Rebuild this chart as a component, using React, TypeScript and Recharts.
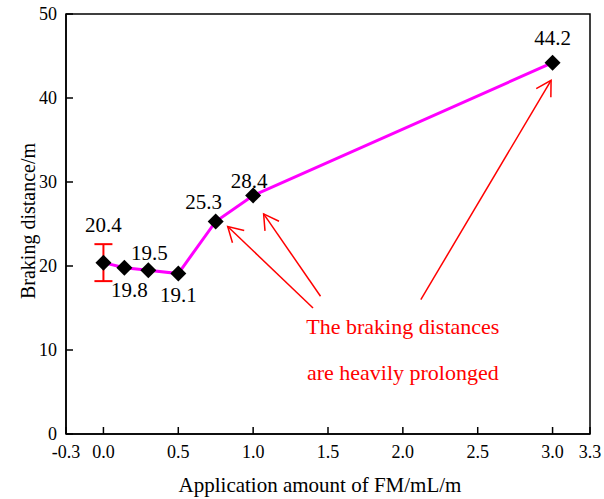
import {
  ComposedChart,
  Line,
  XAxis,
  YAxis,
  ErrorBar,
  LabelList,
  ReferenceArea,
  ReferenceLine,
  ReferenceDot,
  Label,
} from 'recharts';

// values
const amounts = [0, 0.14, 0.3, 0.5, 0.75, 1.0, 3.0];
const distances = [20.4, 19.8, 19.5, 19.1, 25.3, 28.4, 44.2];
const errors = [2.2, 0, 0, 0, 0, 0, 0];

const xTicks = [-0.25, 0, 0.5, 1.0, 1.5, 2.0, 2.5, 3.0, 3.25];
const xTickLabels = ['-0.3', '0.0', '0.5', '1.0', '1.5', '2.0', '2.5', '3.0', '3.3'];
const yTicks = [0, 10, 20, 30, 40, 50];

// annotation arrows, [tail, head] in data units
const arrowTails = [
  { x: 1.4, y: 15.0 },
  { x: 1.45, y: 16.4 },
  { x: 2.12, y: 16.0 },
];
const arrowHeads = [
  { x: 0.83, y: 24.7 },
  { x: 1.07, y: 26.2 },
  { x: 2.99, y: 42.1 },
];
const noteLines = ['The braking distances', 'are heavily prolonged'];
const noteAnchor = { x: 2.0, y: 11.9 };

const data = amounts.map((x, i) => ({ x, y: distances[i], err: errors[i] }));

// where each value label sits relative to its marker (px)
const labelOffsets = [
  { dx: 0, dy: -31 },
  { dx: 5, dy: 29.5 },
  { dx: 1, dy: -10 },
  { dx: 0, dy: 28 },
  { dx: -12, dy: -12.5 },
  { dx: -4, dy: -7.5 },
  { dx: 0, dy: -18 },
];

const SERIF = '"Liberation Serif", "Times New Roman", serif';
const PLOT_TOP = 14;
const PLOT_H = 420;

function Diamond(props: any) {
  const { cx, cy, index } = props;
  const r = 8;
  return (
    <path
      key={`d-${index}`}
      d={`M${cx},${cy - r} L${cx + r},${cy} L${cx},${cy + r} L${cx - r},${cy} Z`}
      fill="#000"
    />
  );
}

function Arrow(props: any) {
  const { x1, y1, x2, y2 } = props;
  const ang = Math.atan2(y1 - y2, x1 - x2);
  const len = 17;
  const spread = (30 * Math.PI) / 180;
  const ax = x2 + len * Math.cos(ang + spread);
  const ay = y2 + len * Math.sin(ang + spread);
  const bx = x2 + len * Math.cos(ang - spread);
  const by = y2 + len * Math.sin(ang - spread);
  return (
    <g>
      <line x1={x1} y1={y1} x2={x2} y2={y2} stroke="#ff0000" strokeWidth={1.5} />
      <polyline
        points={`${ax},${ay} ${x2},${y2} ${bx},${by}`}
        fill="none"
        stroke="#ff0000"
        strokeWidth={1.5}
      />
    </g>
  );
}

function ValueLabel(props: any) {
  const { x, y, value, index } = props;
  const off = labelOffsets[index] || { dx: 0, dy: -10 };
  return (
    <text x={x + off.dx} y={y + off.dy} textAnchor="middle" fill="#000" fontSize={21}>
      {value}
    </text>
  );
}

function XTick(props: any) {
  const { x, y, payload } = props;
  const i = xTicks.indexOf(payload.value);
  return (
    <text x={x} y={y + 13} textAnchor="middle" fill="#000" fontSize={18}>
      {i >= 0 ? xTickLabels[i] : payload.value}
    </text>
  );
}

function YTick(props: any) {
  const { x, y, payload } = props;
  return (
    <text x={x} y={y + 6} textAnchor="end" fill="#000" fontSize={18}>
      {payload.value}
    </text>
  );
}

export default function App() {
  return (
    <div style={{ position: 'absolute', left: 0, top: 0, background: '#fff', fontFamily: SERIF }}>
      <ComposedChart
        width={604}
        height={499}
        data={data}
        margin={{ top: PLOT_TOP, right: 14, bottom: 0, left: 0 }}
      >
        <XAxis
          type="number"
          dataKey="x"
          domain={[-0.25, 3.25]}
          ticks={xTicks}
          interval={0}
          height={65}
          tickSize={-7}
          tickMargin={18}
          tick={XTick}
          stroke="#000"
          strokeWidth={1.5}
        >
          <Label
            position="insideBottom"
            content={(p: any) => {
              const vb = p.viewBox || {};
              return (
                <text
                  x={vb.x + vb.width / 2 - 8}
                  y={499 - 7}
                  textAnchor="middle"
                  fill="#000"
                  fontSize={21}
                >
                  Application amount of FM/mL/m
                </text>
              );
            }}
          />
        </XAxis>
        <YAxis
          type="number"
          domain={[0, 50]}
          ticks={yTicks}
          interval={0}
          width={66}
          tickSize={-7}
          tickMargin={16}
          tick={YTick}
          stroke="#000"
          strokeWidth={1.5}
        >
          <Label
            position="center"
            content={() => {
              const cx = 35;
              const cy = PLOT_TOP + PLOT_H / 2 - 3;
              return (
                <text
                  x={cx}
                  y={cy}
                  textAnchor="middle"
                  transform={`rotate(-90, ${cx}, ${cy})`}
                  fill="#000"
                  fontSize={20}
                >
                  Braking distance/m
                </text>
              );
            }}
          />
        </YAxis>
        <ReferenceArea
          x1={-0.25}
          x2={3.25}
          y1={0}
          y2={50}
          fill="none"
          stroke="#000"
          strokeWidth={1.5}
          fillOpacity={0}
        />
        {arrowTails.map((t, i) => (
          <ReferenceLine
            key={`arrow-${i}`}
            segment={[t, arrowHeads[i]]}
            shape={Arrow}
            stroke="#ff0000"
          />
        ))}
        <ReferenceDot
          x={noteAnchor.x}
          y={noteAnchor.y}
          r={0}
          fill="none"
          stroke="none"
          label={(p: any) => {
            const vb = p.viewBox || {};
            return (
              <text x={vb.x} y={vb.y} textAnchor="middle" fill="#ff0000" fontSize={22}>
                {noteLines.map((ln, i) => (
                  <tspan key={i} x={vb.x} dy={i === 0 ? 0 : 46}>
                    {ln}
                  </tspan>
                ))}
              </text>
            );
          }}
        />
        <Line
          type="linear"
          dataKey="y"
          stroke="#ff00ff"
          strokeWidth={3}
          dot={Diamond}
          activeDot={false}
          isAnimationActive={false}
        >
          <ErrorBar dataKey="err" direction="y" width={9} stroke="#ff0000" strokeWidth={2} />
          <LabelList dataKey="y" content={ValueLabel} />
        </Line>
      </ComposedChart>
    </div>
  );
}
